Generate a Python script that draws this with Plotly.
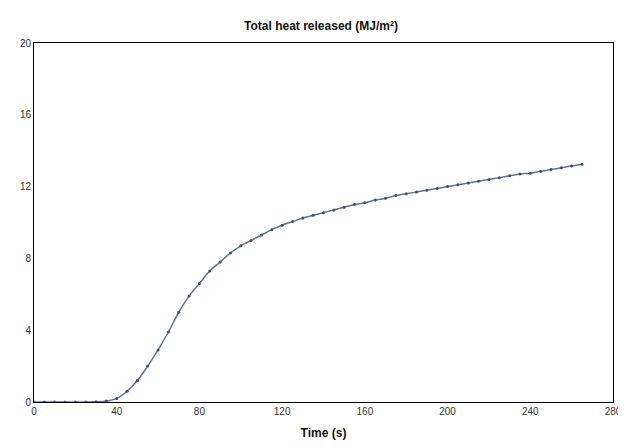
import plotly.graph_objects as go

time_s = list(range(0, 270, 5))
heat = [0, 0, 0, 0, 0, 0, 0.01, 0.05, 0.2, 0.6, 1.2, 2.0, 2.9, 3.9, 5.0, 5.9, 6.6, 7.3,
        7.8, 8.3, 8.7, 9.0, 9.3, 9.6, 9.85, 10.05, 10.25, 10.4, 10.55, 10.7, 10.85, 11.0,
        11.1, 11.25, 11.35, 11.5, 11.6, 11.7, 11.8, 11.9, 12.0, 12.1, 12.2, 12.3, 12.4,
        12.5, 12.6, 12.7, 12.75, 12.85, 12.95, 13.05, 13.15, 13.25]
x_ticks = [0, 40, 80, 120, 160, 200, 240, 280]
y_ticks = [0, 4, 8, 12, 16, 20]

fig = go.Figure(go.Scatter(
    x=time_s, y=heat, mode="lines+markers",
    line=dict(color="#5a7598", width=1.5, shape="spline"),
    marker=dict(color="#3f5070", size=3)))

axis = dict(showgrid=False, zeroline=False, showline=True, linecolor="black", linewidth=1,
            mirror=True, ticks="", tickfont=dict(size=10, color="#333"))
fig.update_layout(
    width=626, height=447, plot_bgcolor="white", paper_bgcolor="white",
    font=dict(family="Liberation Sans, Arial, sans-serif"),
    margin=dict(l=26, r=14, t=35, b=53), showlegend=False,
    title=dict(text="<b>Total heat released (MJ/m²)</b>", x=0.5, xanchor="center",
               y=0.96, yanchor="middle", font=dict(size=12, color="#111")),
    xaxis=dict(axis, range=[0, 280], tickvals=x_ticks,
               title=dict(text="<b>Time (s)</b>", font=dict(size=12, color="#111"), standoff=12)),
    yaxis=dict(axis, range=[0, 20], tickvals=y_ticks),
)
fig.write_html("out.html")
